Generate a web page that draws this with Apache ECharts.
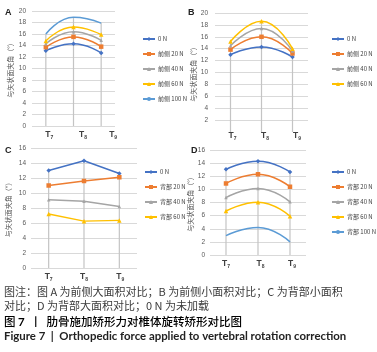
<!DOCTYPE html>
<html><head><meta charset="utf-8">
<script src="https://cdn.jsdelivr.net/npm/echarts@6/dist/echarts.min.js"></script>
<style>html,body{margin:0;padding:0;background:#fff}#c{width:377px;height:352px}</style>
</head><body><div id="c"></div>
<script>
const categories = ['T7', 'T8', 'T9'];
// Panel A: 前侧大面积
const namesA = ['0 N', '前侧 20 N', '前侧 40 N', '前侧 60 N', '前侧 100 N'];
const A0 = [13.1, 14.3, 12.7];
const A20 = [13.7, 15.5, 13.8];
const A40 = [14.3, 16.4, 14.9];
const A60 = [14.8, 17.2, 15.9];
const A100 = [16.0, 18.9, 17.9];
// Panel B: 前侧小面积
const namesB = ['0 N', '前侧 20 N', '前侧 40 N', '前侧 60 N'];
const B0 = [13.0, 14.3, 12.6];
const B20 = [13.85, 16.0, 13.2];
const B40 = [14.5, 17.4, 13.6];
const B60 = [15.2, 18.6, 14.0];
// Panel C: 背部小面积
const namesC = ['0 N', '背部 20 N', '背部 40 N', '背部 60 N'];
const C0 = [13.0, 14.3, 12.6];
const C20 = [11.0, 11.6, 12.1];
const C40 = [9.1, 8.9, 8.2];
const C60 = [7.2, 6.25, 6.35];
// Panel D: 背部大面积
const namesD = ['0 N', '背部 20 N', '背部 40 N', '背部 60 N', '背部 100 N'];
const D0 = [13.05, 14.3, 12.65];
const D20 = [10.9, 12.3, 10.4];
const D40 = [8.75, 10.15, 8.1];
const D60 = [6.7, 8.05, 5.9];
const D100 = [2.95, 4.2, 2.0];

const yMaxAB = 20, yMaxCD = 16, yStep = 2;
const yName = '与矢状面夹角（°）';

const colors = ['#4472C4', '#ED7D31', '#A5A5A5', '#FFC000', '#5B9BD5'];
const symbols = ['diamond', 'rect', 'triangle', 'triangle', 'none'];
const cjk = '"Noto Sans CJK SC", sans-serif';

const panels = [
  {names: namesA, data: [A0, A20, A40, A60, A100], smooth: true, max: yMaxAB,
   grid: {left: 32, top: 11, width: 83, height: 115}, legend: {left: 137, top: 31},
   nameGap: 18, labMargin: 6, xPad: [7, 19, 24], hideZero: false},
  {names: namesB, data: [B0, B20, B40, B60], smooth: true, max: yMaxAB,
   grid: {left: 215, top: 13, width: 93, height: 119}, legend: {left: 326, top: 31},
   nameGap: 17, labMargin: 7, xPad: [4, 7, 9], hideZero: true},
  {names: namesC, data: [C0, C20, C40, C60], smooth: false, max: yMaxCD,
   grid: {left: 31, top: 148, width: 106, height: 120}, legend: {left: 139, top: 164},
   nameGap: 19, labMargin: 5, xPad: [0, 0, 2], hideZero: false},
  {names: namesD, data: [D0, D20, D40, D60, D100], smooth: true, max: yMaxCD,
   grid: {left: 210, top: 150, width: 96, height: 105}, legend: {left: 326, top: 164},
   nameGap: 15, labMargin: 5, xPad: [0, 5, 4], hideZero: false}
];

const option = {
  animation: false,
  grid: [], xAxis: [], yAxis: [], legend: [], series: [],
  graphic: []
};

panels.forEach((p, i) => {
  option.grid.push(p.grid);
  const rich = {
    s: {fontSize: 5, fontWeight: 'bold', color: '#404040', verticalAlign: 'bottom', lineHeight: 10, padding: [0, 0, -1, 0]}
  };
  p.xPad.forEach((pd, k) => {
    rich['t' + k] = {fontSize: 8.5, fontWeight: 'bold', color: '#404040', verticalAlign: 'bottom', lineHeight: 10, padding: [0, 0, 0, pd]};
  });
  option.xAxis.push({
    type: 'category', gridIndex: i, data: categories, boundaryGap: true,
    axisLine: {show: false}, axisTick: {show: false}, splitLine: {show: false},
    axisLabel: {interval: 0, hideOverlap: false, margin: p.hideZero ? -2 : 3, fontFamily: 'Liberation Sans', rich: rich,
      formatter: (v, idx) => '{t' + idx + '|' + v.charAt(0) + '}{s|' + v.slice(1) + '}'}
  });
  const nLines = p.max / yStep + 1;
  const splitColors = [];
  for (let k = 0; k < nLines; k++) splitColors.push(k === 0 && p.hideZero ? 'rgba(0,0,0,0)' : '#d9d9d9');
  option.yAxis.push({
    type: 'value', gridIndex: i, min: 0, max: p.max, interval: yStep,
    axisLine: {show: false}, axisTick: {show: false},
    splitLine: {lineStyle: {color: splitColors, width: 1}},
    axisLabel: {fontSize: 6.5, color: '#595959', margin: p.labMargin, fontFamily: 'Liberation Sans', showMinLabel: !p.hideZero},
    name: yName, nameLocation: 'middle', nameRotate: 90, nameGap: p.nameGap,
    nameTextStyle: {fontSize: 7, color: '#595959', fontFamily: cjk}
  });
  option.legend.push({
    data: p.names, orient: 'vertical', left: p.legend.left, top: p.legend.top,
    itemWidth: 12, itemHeight: 5, itemGap: 9,
    textStyle: {fontSize: 6, color: '#404040', fontFamily: cjk, padding: [0, 0, 0, -2]}
  });
  // drop lines: from the top series value at each category down to the axis
  const tops = categories.map((c, k) => Math.max(...p.data.map(s => s[k])));
  option.series.push({
    type: 'bar', name: 'drop' + i, xAxisIndex: i, yAxisIndex: i, data: tops,
    barWidth: 1.2, itemStyle: {color: '#c4c4c4'}, z: 1, silent: true
  });
  p.data.forEach((d, k) => {
    option.series.push({
      type: 'line', name: p.names[k], xAxisIndex: i, yAxisIndex: i, data: d,
      smooth: p.smooth ? 0.5 : false, symbol: symbols[k], symbolSize: k === 2 ? 3.5 : 4.5,
      lineStyle: {width: 1.5, color: colors[k]}, itemStyle: {color: colors[k]}, z: 3
    });
  });
});

const letters = [['A', 5, 8], ['B', 188, 8], ['C', 5, 146], ['D', 191, 146]];
letters.forEach(l => option.graphic.push({
  type: 'text', left: l[1], top: l[2],
  style: {text: l[0], font: 'bold 9px "Liberation Sans"', fill: '#222'}
}));

const captions = [
  {text: '图注：图 A 为前侧大面积对比；B 为前侧小面积对比；C 为背部小面积', top: 286},
  {text: '对比；D 为背部大面积对比；0 N 为未加载', top: 300}
];
captions.forEach(c => option.graphic.push({
  type: 'text', left: 4, top: c.top, style: {text: c.text, font: '11px ' + cjk, fill: '#3a3a3a'}
}));
option.graphic.push({
  type: 'text', left: 4, top: 316,
  style: {
    text: '{a|图 }{b|7}{a|  丨  肋骨施加矫形力对椎体旋转矫形对比图}',
    rich: {
      a: {fontSize: 11.5, fontFamily: cjk, fontWeight: 500, color: '#222'},
      b: {fontSize: 11.5, fontFamily: 'Lato', fontWeight: 'bold', color: '#222'}
    }
  }
});
option.graphic.push({
  type: 'text', left: 4, top: 331,
  style: {text: 'Figure 7  |  Orthopedic force applied to vertebral rotation correction', font: 'bold 11.4px Lato', fill: '#222'}
});

const chart = echarts.init(document.getElementById('c'), null, {renderer: 'canvas'});
chart.setOption(option);
</script>
</body></html>
